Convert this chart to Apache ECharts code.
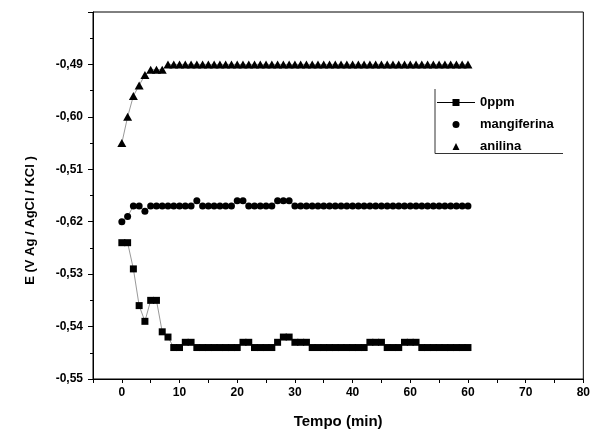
<!DOCTYPE html>
<html>
<head>
<meta charset="utf-8">
<script src="https://cdn.jsdelivr.net/npm/echarts@6/dist/echarts.min.js"></script>
<style>
html,body{margin:0;padding:0;background:#fff;}
#c{width:593px;height:434px;}
</style>
</head>
<body>
<div id="c"></div>
<script>
// ---- data ----
const time = [0,1,2,3,4,5,6,7,8,9,10,11,12,13,14,15,16,17,18,19,20,21,22,23,24,25,26,27,28,29,30,31,32,33,34,35,36,37,38,39,40,41,42,43,44,45,46,47,48,49,50,51,52,53,54,55,56,57,58,59,60];
const ppm0 = [
 -0.524,-0.524,-0.529,-0.536,-0.539,-0.535,-0.535,-0.541,-0.542,-0.544,
 -0.544,-0.543,-0.543,-0.544,-0.544,-0.544,-0.544,-0.544,-0.544,-0.544,
 -0.544,-0.543,-0.543,-0.544,-0.544,-0.544,-0.544,-0.543,-0.542,-0.542,
 -0.543,-0.543,-0.543,-0.544,-0.544,-0.544,-0.544,-0.544,-0.544,-0.544,
 -0.544,-0.544,-0.544,-0.543,-0.543,-0.543,-0.544,-0.544,-0.544,-0.543,
 -0.543,-0.543,-0.544,-0.544,-0.544,-0.544,-0.544,-0.544,-0.544,-0.544,
 -0.544];
const mangiferina = [
 -0.520,-0.519,-0.517,-0.517,-0.518,-0.517,-0.517,-0.517,-0.517,-0.517,
 -0.517,-0.517,-0.517,-0.516,-0.517,-0.517,-0.517,-0.517,-0.517,-0.517,
 -0.516,-0.516,-0.517,-0.517,-0.517,-0.517,-0.517,-0.516,-0.516,-0.516,
 -0.517,-0.517,-0.517,-0.517,-0.517,-0.517,-0.517,-0.517,-0.517,-0.517,
 -0.517,-0.517,-0.517,-0.517,-0.517,-0.517,-0.517,-0.517,-0.517,-0.517,
 -0.517,-0.517,-0.517,-0.517,-0.517,-0.517,-0.517,-0.517,-0.517,-0.517,
 -0.517];
const anilina = [
 -0.505,-0.500,-0.496,-0.494,-0.492,-0.491,-0.491,-0.491,-0.490,-0.490,
 -0.490,-0.490,-0.490,-0.490,-0.490,-0.490,-0.490,-0.490,-0.490,-0.490,
 -0.490,-0.490,-0.490,-0.490,-0.490,-0.490,-0.490,-0.490,-0.490,-0.490,
 -0.490,-0.490,-0.490,-0.490,-0.490,-0.490,-0.490,-0.490,-0.490,-0.490,
 -0.490,-0.490,-0.490,-0.490,-0.490,-0.490,-0.490,-0.490,-0.490,-0.490,
 -0.490,-0.490,-0.490,-0.490,-0.490,-0.490,-0.490,-0.490,-0.490,-0.490,
 -0.490];
const seriesNames = ['0ppm','mangiferina','anilina'];
const xTickValues = [0,10,20,30,40,50,60,70,80];
const xTickLabels = ['0','10','20','30','40','60','60','70','80'];
const yTickValues = [-0.55,-0.54,-0.53,-0.52,-0.51,-0.50,-0.49];
const yTickLabels = ['-0,55','-0,54','-0,53','-0,62','-0,51','-0,60','-0,49'];
const xTitle = 'Tempo (min)';
const yTitle = 'E (V Ag / AgCl / KCl )';

const FONT = '"Liberation Sans", Arial, sans-serif';
const pair = (ys) => time.map((t,i)=>[t, ys[i]]);
function xFmt(v){
  const i = xTickValues.findIndex(t => Math.abs(t - v) < 1e-6);
  return i >= 0 ? xTickLabels[i] : '';
}
function yFmt(v){
  const i = yTickValues.findIndex(t => Math.abs(t - v) < 1e-6);
  return i >= 0 ? yTickLabels[i] : '';
}

const chart = echarts.init(document.getElementById('c'), null, {renderer:'canvas'});
chart.setOption({
  animation:false,
  backgroundColor:'#fff',
  textStyle:{fontFamily:FONT},
  grid:{left:93, right:9, top:12, bottom:55, show:true, borderColor:'#000', borderWidth:1, backgroundColor:'transparent'},
  xAxis:{
    type:'value', min:-5, max:80, interval:5,
    name:xTitle, nameLocation:'middle', nameGap:35,
    nameTextStyle:{fontFamily:FONT, fontWeight:'bold', fontSize:15, color:'#000'},
    axisLine:{show:true, onZero:false, lineStyle:{color:'#000', width:1}},
    axisTick:{show:true, inside:false, length:4, lineStyle:{color:'#000'}},
    axisLabel:{formatter:xFmt, fontFamily:FONT, fontWeight:'bold', fontSize:12, color:'#000', margin:8, showMinLabel:true, showMaxLabel:true},
    splitLine:{show:false}
  },
  yAxis:{
    type:'value', min:-0.55, max:-0.48, interval:0.01,
    name:yTitle, nameLocation:'middle', nameGap:56, nameRotate:90,
    nameTextStyle:{fontFamily:FONT, fontWeight:'bold', fontSize:13, color:'#000', padding:[0,50,0,0]},
    axisLine:{show:true, onZero:false, lineStyle:{color:'#000', width:1}},
    axisTick:{show:true, inside:false, length:5, lineStyle:{color:'#000'}},
    minorTick:{show:true, splitNumber:2, length:3, lineStyle:{color:'#000'}},
    axisLabel:{formatter:yFmt, fontFamily:FONT, fontWeight:'bold', fontSize:12, color:'#000', margin:10, showMaxLabel:false},
    splitLine:{show:false}
  },
  legend:{
    orient:'vertical', left:437, top:96, padding:0,
    itemWidth:38, itemHeight:7, itemGap:9,
    textStyle:{fontFamily:FONT, fontWeight:'bold', fontSize:13, color:'#000'},
    data:[
      {name:seriesNames[0], icon:'path://M0,3 L38,3 L38,4 L0,4 Z M15.5,0 L22.5,0 L22.5,7 L15.5,7 Z'},
      {name:seriesNames[1], icon:'circle'},
      {name:seriesNames[2], icon:'path://M0,0 L0,0 Z M38,7 L38,7 Z M15.5,7 L19,0 L22.5,7 Z'}
    ]
  },
  graphic:[{
    type:'polyline', silent:true,
    shape:{points:[[435,89],[435,153.5],[563,153.5]]},
    style:{stroke:'#333', lineWidth:1, fill:null}
  }],
  series:[
    {name:seriesNames[0], type:'line', data:pair(ppm0), symbol:'rect', symbolSize:7,
     itemStyle:{color:'#000'}, lineStyle:{color:'#999', width:1}},
    {name:seriesNames[1], type:'line', data:pair(mangiferina), symbol:'circle', symbolSize:7,
     itemStyle:{color:'#000'}, lineStyle:{color:'#999', width:1}},
    {name:seriesNames[2], type:'line', data:pair(anilina), symbol:'triangle', symbolSize:[9,8],
     itemStyle:{color:'#000'}, lineStyle:{color:'#999', width:1}}
  ]
});
</script>
</body>
</html>
